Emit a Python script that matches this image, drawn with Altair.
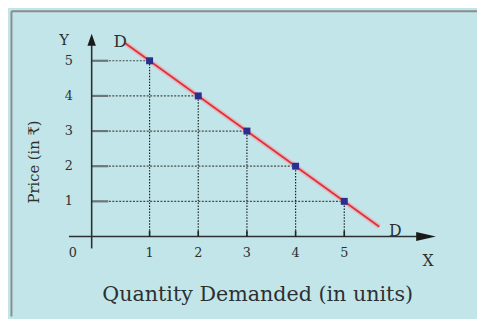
import altair as alt
import pandas as pd

# ---- data ----
quantity = [1, 2, 3, 4, 5]
price = [5, 4, 3, 2, 1]
demand_q = [0.5, 5.72]
demand_p = [5.5, 0.28]
x_tick_labels = ["1", "2", "3", "4", "5"]
y_tick_labels = ["5", "4", "3", "2", "1"]
x_title = "Quantity Demanded (in units)"
y_title = "Price (in \u20b9)"

XD = [-1.909, 7.727]
YD = [-2.273, 6.427]
xs = alt.Scale(domain=XD, nice=False, zero=False)
ys = alt.Scale(domain=YD, nice=False, zero=False)

def ex(f="x"):
    return alt.X(f"{f}:Q", scale=xs, axis=None)

def ey(f="y"):
    return alt.Y(f"{f}:Q", scale=ys, axis=None)

def seg(df, **mk):
    return alt.Chart(df).mark_rule(**mk).encode(
        x=ex("x"), x2=alt.X2("x2:Q"), y=ey("y"), y2=alt.Y2("y2:Q"))

# frame border (left and top)
border = pd.DataFrame({"x": [-1.838, -1.838], "x2": [-1.838, XD[1]],
                       "y": [YD[0], 6.41], "y2": [6.41, 6.41]})
# axes
yaxis_x = -0.19
axes = pd.DataFrame({"x": [yaxis_x, -0.657], "x2": [yaxis_x, 6.5],
                     "y": [-0.34, 0], "y2": [5.5, 0]})
# dotted guides
hdot = pd.DataFrame({"x": [yaxis_x] * 5, "x2": quantity, "y": price, "y2": price})
vdot = pd.DataFrame({"x": quantity, "x2": quantity, "y": [0] * 5, "y2": price})
xticks = pd.DataFrame({"x": quantity, "x2": quantity, "y": [0] * 5, "y2": [0.17] * 5})
yticks = pd.DataFrame({"x": [yaxis_x] * 5, "x2": [0.15] * 5, "y": price, "y2": price})

demand = pd.DataFrame({"x": demand_q, "y": demand_p})
pts = pd.DataFrame({"x": quantity, "y": price})

arrow_up = pd.DataFrame({"x": [yaxis_x], "y": [5.6]})
arrow_right = pd.DataFrame({"x": [6.68], "y": [0]})

labels = pd.DataFrame({
    "t": y_tick_labels + x_tick_labels + ["0", "Y", "D", "D", "X", y_title],
    "x": [-0.657] * 5 + quantity + [-0.576, -0.758, 0.394, 6.05, 6.72, -1.364],
    "y": price + [-0.483] * 5 + [-0.483, 5.59, 5.53, 0.16, -0.71, 2.12],
    "fs": [13] * 10 + [13, 15, 17, 16, 16, 15],
    "ang": [0] * 15 + [270],
})
title_df = pd.DataFrame({"t": [x_title], "x": [3.22], "y": [-1.66]})

layers = [
    seg(border, color="#8c8c8c", strokeWidth=2),
    seg(hdot, color="#4a4a4a", strokeWidth=1.2, strokeDash=[2, 1.5]),
    seg(vdot, color="#1e1e1e", strokeWidth=1.2, strokeDash=[1.5, 1.5]),
    seg(yticks, color="#6c7676", strokeWidth=2.2),
    seg(axes, color="#2a3030", strokeWidth=1.6),
    seg(xticks, color="#1e2222", strokeWidth=1.6),
    alt.Chart(arrow_up).mark_point(shape="M-0.7,1L0,-1L0.7,1Z", filled=True, size=150,
                                   color="#1a1a1a", opacity=1).encode(x=ex(), y=ey()),
    alt.Chart(arrow_right).mark_point(shape="M-1,-0.45L1,0L-1,0.45Z", filled=True, size=400,
                                      color="#1a1a1a", opacity=1).encode(x=ex(), y=ey()),
    alt.Chart(demand).mark_line(color="#f0a0a8", strokeWidth=5, opacity=0.6).encode(x=ex(), y=ey()),
    alt.Chart(demand).mark_line(color="#e0303a", strokeWidth=1.8).encode(x=ex(), y=ey()),
    alt.Chart(pts).mark_point(shape="square", filled=True, size=50, color="#2c2e8e",
                              opacity=1).encode(x=ex(), y=ey()),
    alt.Chart(labels).mark_text(font="DejaVu Serif", color="#2c3030", align="center",
                                baseline="middle").encode(
        x=ex(), y=ey(), text="t:N",
        size=alt.Size("fs:Q", scale=None), angle=alt.Angle("ang:Q", scale=None)),
    alt.Chart(title_df).mark_text(font="DejaVu Serif", color="#2c3030", align="center",
                                  baseline="middle", fontSize=21).encode(
        x=ex(), y=ey(), text="t:N"),
]

chart = alt.layer(*layers).properties(
    width=477, height=311, padding=0, autosize="none", background="#c2e5e9"
).configure_view(stroke=None)

chart.save("out.html", embed_options={"renderer": "svg", "actions": False})
